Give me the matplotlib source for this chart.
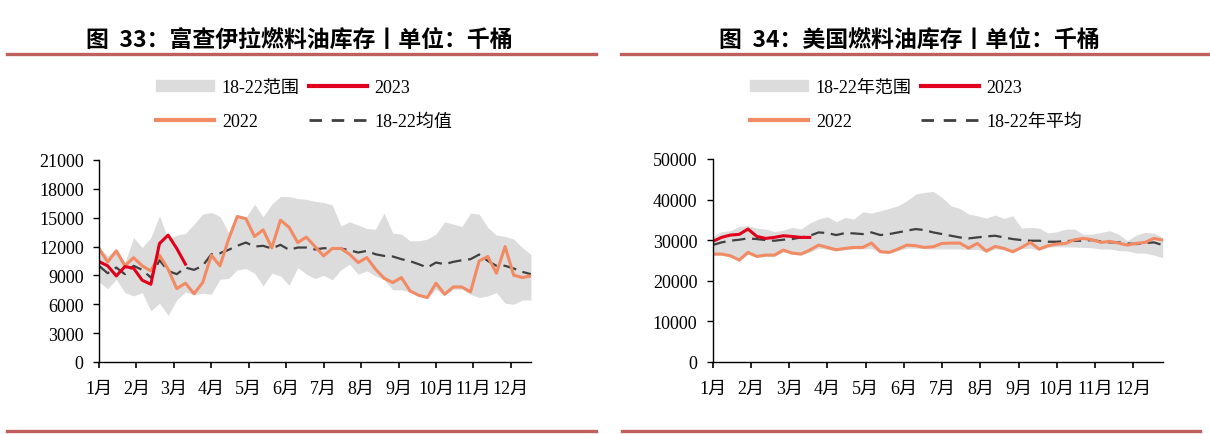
import numpy as np
import matplotlib
matplotlib.use("Agg")
import matplotlib.pyplot as plt
from matplotlib.lines import Line2D
from matplotlib.patches import Patch

plt.rcParams["font.family"] = ["Liberation Serif", "Noto Sans CJK SC"]

months = ["1月", "2月", "3月", "4月", "5月", "6月", "7月", "8月", "9月", "10月", "11月", "12月"]

# Fujairah fuel oil stocks, weekly, thousand barrels
fuj_2023 = [10440, 10000, 8950, 9920, 9750, 8500, 8080, 12320, 13190, 11800, 10170]
fuj_2022 = [11800, 10400, 11550, 10000, 10850, 10000, 9470, 11100, 9650, 7630,
            8190, 7100, 8260, 11100, 10000, 12770, 15130, 14900, 13050, 13740,
            11870, 14750, 14000, 12420, 12980, 12000, 11030, 11800, 11800, 11200,
            10340, 10860, 9650, 8710, 8260, 8780, 7390, 6940, 6700, 8190,
            7040, 7800, 7800, 7290, 10510, 10970, 9230, 12000, 9020, 8780, 8950]
fuj_avg = [10000, 9230, 9820, 9130, 10000, 9580, 8780, 10580, 9470, 9130,
           9820, 9580, 10000, 11200, 11310, 11660, 12080, 12420, 12000, 12080,
           11800, 12180, 11660, 11900, 11900, 11700, 11830, 11800, 11800, 11620,
           11380, 11550, 11200, 11030, 10970, 10690, 10480, 10170, 9820, 10340,
           10170, 10410, 10580, 10690, 11170, 10510, 10000, 10000, 9720, 9370, 9130]
fuj_max = [11900, 11030, 11800, 10340, 12940, 11900, 12940, 15200, 12770, 13190,
           13360, 14330, 15370, 15550, 15130, 13460, 15250, 15000, 16410, 15100,
           16410, 17210, 17180, 17000, 16900, 16700, 16590, 16310, 14160, 14570,
           14230, 13880, 13810, 15480, 13390, 13290, 12600, 12600, 12770, 13290,
           14570, 14330, 14090, 15480, 15370, 13980, 13190, 13050, 12770, 11900, 11170]
fuj_min = [8330, 7630, 8600, 7220, 6870, 7220, 5310, 6110, 4860, 6450,
           7290, 7000, 7150, 7040, 8600, 8680, 9580, 9720, 9230, 7910,
           9230, 8950, 7980, 9820, 9130, 8680, 9020, 8540, 9580, 10170,
           9130, 9470, 8950, 8540, 7500, 7500, 7300, 6850, 6600, 7560,
           6950, 7560, 7560, 7040, 6700, 6870, 7220, 6110, 6000, 6450, 6450]

# US fuel oil stocks, weekly, thousand barrels
us_2023 = [29670, 30660, 31240, 31400, 32720, 30900, 30410, 30660, 31070, 30900, 30660, 30660]
us_2022 = [26550, 26550, 26140, 25070, 26960, 25980, 26300, 26300, 27540, 26800,
           26550, 27540, 28770, 28190, 27620, 27950, 28190, 28190, 29260, 27130,
           26960, 27780, 28770, 28610, 28190, 28360, 29180, 29260, 29260, 28030,
           29180, 27290, 28440, 27950, 27130, 28190, 29430, 27780, 28610, 29020,
           29180, 30090, 30410, 30090, 29430, 29670, 29260, 28770, 29180, 29430,
           30410, 30000]
us_avg = [28770, 29430, 29840, 30090, 30410, 30250, 30000, 29840, 30090, 30250,
          30660, 31070, 31890, 31730, 31240, 31730, 31650, 31480, 31890, 31240,
          31480, 31890, 32310, 32720, 32470, 31890, 31480, 31070, 30660, 30410,
          30660, 30900, 31070, 30660, 30250, 30000, 29840, 29840, 29590, 29590,
          29760, 29840, 29840, 30000, 29670, 29430, 29430, 29180, 29020, 29260,
          29430, 28770]
us_max = [30900, 32060, 32310, 33370, 33540, 32960, 32720, 32060, 32470, 33130,
          32720, 34200, 35180, 35760, 34520, 35590, 35180, 36990, 36660, 37240,
          37810, 38470, 39700, 41350, 41760, 42000, 40520, 38470, 37810, 36410,
          36000, 35430, 36170, 35350, 36000, 32960, 33130, 32960, 31730, 32060,
          32720, 32720, 31400, 31480, 31890, 32310, 31480, 29840, 31240, 31890,
          31730, 30660]
us_min = [26300, 26300, 25900, 24900, 26500, 25700, 26000, 26000, 27000, 26500,
          26300, 27000, 28000, 27700, 27300, 27600, 27800, 27800, 27900, 26900,
          26700, 27400, 28000, 28000, 27900, 27800, 27800, 27800, 27800, 27700,
          27700, 27000, 27800, 27600, 26900, 27900, 28000, 27500, 28200, 28400,
          28300, 28300, 28200, 28100, 27800, 27800, 27400, 27300, 26800, 26800,
          26300, 25650]

BAND = "#DCDCDC"
RED = "#E0001B"
ORANGE = "#F28A63"
DASH = "#404040"
RULE = "#C0605C"

fig = plt.figure(figsize=(12.1, 4.35), dpi=100)


def draw_panel(rect, lo, hi, y22, y23, avg, ymax, ystep):
    ax = fig.add_axes(rect)
    x = np.arange(len(y22))
    ax.fill_between(x, lo, hi, color=BAND, lw=0)
    ax.plot(x, avg, color=DASH, lw=1.6, dashes=(6, 3))
    ax.plot(x, y22, color=ORANGE, lw=2.2)
    ax.plot(np.arange(len(y23)), y23, color=RED, lw=2.2)
    ax.set_xlim(0, len(y22) - 1)
    ax.set_ylim(0, ymax)
    ax.set_yticks(np.arange(0, ymax + 1, ystep))
    ax.set_xticks(np.arange(12) * 52 / 12)
    ax.set_xticklabels(months)
    for s in ["top", "right"]:
        ax.spines[s].set_visible(False)
    for s in ["left", "bottom"]:
        ax.spines[s].set_linewidth(1.0)
    ax.tick_params(axis="y", direction="out", length=4, width=1, pad=7, labelsize=13)
    ax.tick_params(axis="x", direction="out", length=4, width=1.2, pad=9, labelsize=13)
    return ax


draw_panel([99 / 1210, 72 / 435, 432 / 1210, 202 / 435],
           fuj_min, fuj_max, fuj_2022, fuj_2023, fuj_avg, 21000, 3000)
draw_panel([712.7 / 1210, 72.3 / 435, 450 / 1210, 202.7 / 435],
           us_min, us_max, us_2022, us_2023, us_avg, 50000, 10000)

# titles and rules
fig.text(299.5 / 1210, 1 - 40 / 435, "图  33：富查伊拉燃料油库存丨单位：千桶", ha="center", va="center",
         fontsize=16.5, fontweight="bold", family=["Noto Sans CJK SC"])
fig.text(909 / 1210, 1 - 40 / 435, "图  34：美国燃料油库存丨单位：千桶", ha="center", va="center",
         fontsize=16.5, fontweight="bold", family=["Noto Sans CJK SC"])
for x0, x1 in [(7, 596), (621, 1210)]:
    fig.add_artist(Line2D([x0 / 1210, x1 / 1210], [1 - 55 / 435] * 2, color=RULE, lw=2.4))
for x0, x1 in [(7, 596), (622, 1200)]:
    fig.add_artist(Line2D([x0 / 1210, x1 / 1210], [1 - 432 / 435] * 2, color=RULE, lw=2.4))


def make_legend(x0, band_label, avg_label):
    handles = [Patch(color=BAND), Line2D([], [], color=ORANGE, lw=3),
               Line2D([], [], color=RED, lw=3), Line2D([], [], color=DASH, lw=2, dashes=(4.5, 3.5))]
    labels = [band_label, "2022", "2023", avg_label]
    fig.legend(handles, labels, ncol=2, loc="upper left", bbox_to_anchor=(x0 / 1210, 1 - 80 / 435),
               frameon=False, borderpad=0, borderaxespad=0, handlelength=3.2, handleheight=0.5,
               handletextpad=0.45, columnspacing=0.5, labelspacing=0.95, fontsize=13)


make_legend(156, "18-22范围", "18-22均值")
make_legend(750, "18-22年范围", "18-22年平均")

fig.savefig("out.png", dpi=100)
